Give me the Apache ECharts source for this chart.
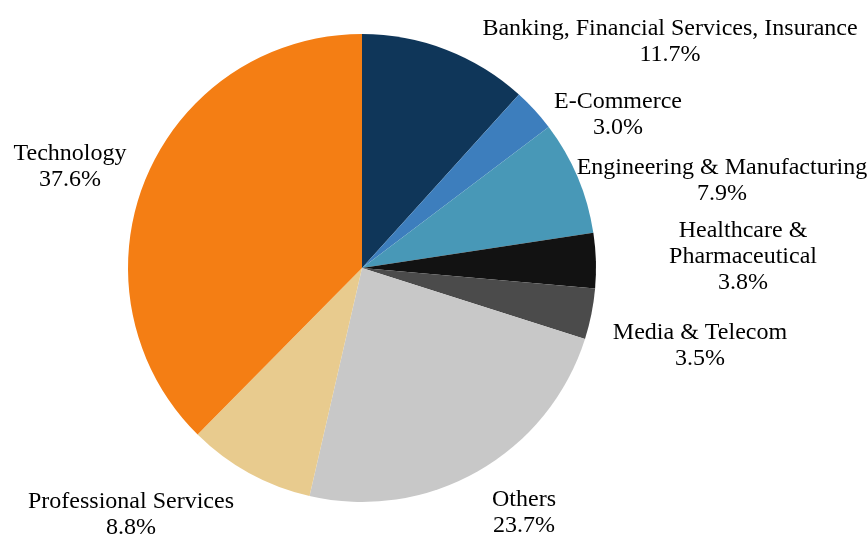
<!DOCTYPE html>
<html>
<head>
<meta charset="utf-8">
<script src="https://cdn.jsdelivr.net/npm/echarts@6/dist/echarts.min.js"></script>
<style>
	html, body { margin: 0; padding: 0; background: #fff; }
	#chart { width: 868px; height: 534px; }
</style>
</head>
<body>
<div id="chart"></div>
<script>
// Sector shares (%), clockwise from 12 o'clock
const categories = [
	'Banking, Financial Services, Insurance',
	'E-Commerce',
	'Engineering & Manufacturing',
	'Healthcare &\nPharmaceutical',
	'Media & Telecom',
	'Others',
	'Professional Services',
	'Technology'
]
const shares = [11.7, 3.0, 7.9, 3.8, 3.5, 23.7, 8.8, 37.6]
const colors = ['#0f3659', '#3d7ebd', '#4898b7', '#121212', '#4b4b4b', '#c8c8c8', '#e8cb8e', '#f47e14']

// where each label's centre sits (px)
const labelSpots = [
	[670, 42], [618, 115], [722, 181], [743, 257],
	[700, 346], [524, 513], [131, 515], [70, 167]
]

const chart = echarts.init(document.getElementById('chart'))

chart.setOption({
	animation: false,
	series: [{
		type: 'pie',
		center: [362, 268],
		radius: 234,
		startAngle: 90,
		clockwise: true,
		data: categories.map((name, i) => ({
			name: name,
			value: shares[i],
			itemStyle: { color: colors[i] }
		})),
		label: {
			show: true,
			position: 'outside',
			formatter: p => p.name + '\n' + p.value.toFixed(1) + '%',
			fontFamily: '"Liberation Serif", "Times New Roman", serif',
			fontSize: 24,
			lineHeight: 26,
			color: '#000',
			align: 'center',
			overflow: 'none',
			width: 500
		},
		labelLine: { show: false },
		labelLayout: params => ({
			x: labelSpots[params.dataIndex][0],
			y: labelSpots[params.dataIndex][1],
			align: 'center',
			verticalAlign: 'middle',
			hideOverlap: false
		})
	}]
})
</script>
</body>
</html>
